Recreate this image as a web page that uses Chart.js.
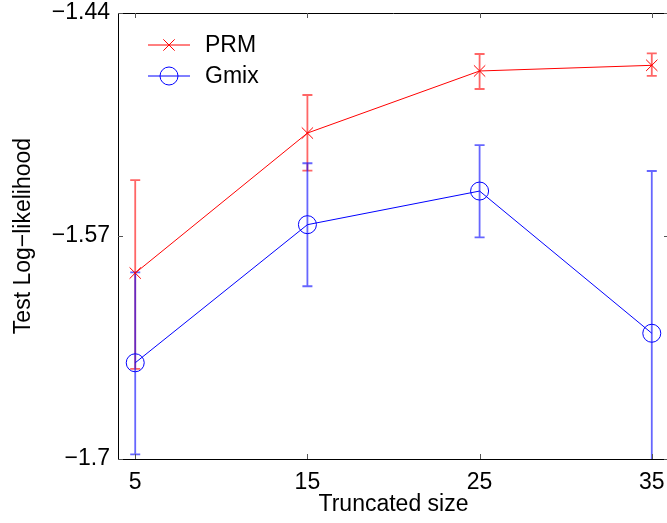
<!DOCTYPE html>
<html>
<head>
<meta charset="utf-8">
<script src="https://cdn.jsdelivr.net/npm/chart.js@4.4.0/dist/chart.umd.min.js"></script>
<style>
  html, body { margin: 0; padding: 0; background: #fff; overflow: hidden; }
  #wrap { width: 680px; height: 523px; }
</style>
</head>
<body>
<div id="wrap"><canvas id="lineChart"></canvas></div>
<script>
const sizes = [5, 15, 25, 35];
const prmMean = [-1.5916, -1.5100, -1.4738, -1.4705];
const prmLow  = [-1.6475, -1.5319, -1.4843, -1.4767];
const prmHigh = [-1.5374, -1.4878, -1.4639, -1.4635];
const gmixMean = [-1.6439, -1.5634, -1.5438, -1.6267];
const gmixLow  = [-1.6973, -1.5993, -1.5708, -1.7200];
const gmixHigh = [-1.5912, -1.5276, -1.5170, -1.5321];
const yTicks = [-1.7, -1.57, -1.44];

const FONT = "'Liberation Sans', Arial, Helvetica, sans-serif";
Chart.defaults.font.family = FONT;
Chart.defaults.color = '#000';

const errColors = ['rgba(255,0,0,0.6)', 'rgba(0,0,255,0.6)'];
const errLow = [prmLow, gmixLow];
const errHigh = [prmHigh, gmixHigh];

// error bars, clipped to the plot box
const errorBars = {
  id: 'errorBars',
  beforeDatasetsDraw(chart) {
    const ctx = chart.ctx, a = chart.chartArea;
    const xs = chart.scales.x, ys = chart.scales.y;
    ctx.save();
    ctx.beginPath();
    ctx.rect(a.left, a.top, a.right - a.left, a.bottom - a.top);
    ctx.clip();
    ctx.lineWidth = 1.8;
    for (let d = 0; d < 2; d++) {
      ctx.strokeStyle = errColors[d];
      for (let i = 0; i < sizes.length; i++) {
        const px = xs.getPixelForValue(sizes[i]);
        const y1 = ys.getPixelForValue(errLow[d][i]);
        const y2 = ys.getPixelForValue(errHigh[d][i]);
        ctx.beginPath();
        ctx.moveTo(px, y1); ctx.lineTo(px, y2);
        ctx.moveTo(px - 5, y1); ctx.lineTo(px + 5, y1);
        ctx.moveTo(px - 5, y2); ctx.lineTo(px + 5, y2);
        ctx.stroke();
      }
    }
    ctx.restore();
  }
};

// matlab style box, inward ticks, legend inside
const boxAndLegend = {
  id: 'boxAndLegend',
  afterDraw(chart) {
    const ctx = chart.ctx, a = chart.chartArea;
    const xs = chart.scales.x, ys = chart.scales.y;
    ctx.save();
    ctx.strokeStyle = '#000';
    ctx.lineWidth = 1;
    ctx.beginPath();
    ctx.moveTo(a.left, a.top + 0.5); ctx.lineTo(a.right, a.top + 0.5);
    ctx.moveTo(a.right - 0.5, a.top); ctx.lineTo(a.right - 0.5, a.bottom);
    ctx.stroke();
    ctx.strokeStyle = '#555';
    ctx.beginPath();
    sizes.forEach(v => {
      const px = Math.round(xs.getPixelForValue(v)) + 0.5;
      ctx.moveTo(px, a.bottom); ctx.lineTo(px, a.bottom - 5);
      ctx.moveTo(px, a.top); ctx.lineTo(px, a.top + 5);
    });
    yTicks.forEach(v => {
      const py = Math.round(ys.getPixelForValue(v)) + 0.5;
      ctx.moveTo(a.left, py); ctx.lineTo(a.left + 5, py);
      ctx.moveTo(a.right, py); ctx.lineTo(a.right - 5, py);
    });
    ctx.stroke();

    const rows = [45, 76];
    chart.data.datasets.forEach((ds, k) => {
      const y = rows[k];
      ctx.strokeStyle = ds.borderColor;
      ctx.fillStyle = 'rgba(0,0,0,0)';
      ctx.lineWidth = 1;
      ctx.beginPath();
      ctx.moveTo(148, y); ctx.lineTo(190, y);
      ctx.stroke();
      Chart.helpers.drawPoint(ctx, {
        pointStyle: ds.pointStyle, radius: ds.pointRadius, borderWidth: 1
      }, 169, y);
      ctx.fillStyle = '#000';
      ctx.font = '23px ' + FONT;
      ctx.textBaseline = 'middle';
      ctx.fillText(ds.label, 205, y + 1);
    });
    ctx.restore();
  }
};

new Chart(document.getElementById('lineChart'), {
  type: 'line',
  data: {
    datasets: [
      {
        label: 'PRM',
        data: sizes.map((v, i) => ({x: v, y: prmMean[i]})),
        borderColor: 'rgb(255,0,0)',
        borderWidth: 1,
        pointStyle: 'crossRot',
        pointRadius: 8,
        pointBorderColor: 'rgb(255,0,0)',
        pointBackgroundColor: 'rgba(0,0,0,0)',
        pointBorderWidth: 1,
        tension: 0,
        fill: false
      },
      {
        label: 'Gmix',
        data: sizes.map((v, i) => ({x: v, y: gmixMean[i]})),
        borderColor: 'rgb(0,0,255)',
        borderWidth: 1,
        pointStyle: 'circle',
        pointRadius: 9,
        pointBorderColor: 'rgb(0,0,255)',
        pointBackgroundColor: 'rgba(0,0,0,0)',
        pointBorderWidth: 1,
        tension: 0,
        fill: false
      }
    ]
  },
  options: {
    responsive: true,
    maintainAspectRatio: false,
    animation: false,
    layout: { padding: { top: 13, right: 11, left: 0, bottom: 0 } },
    plugins: { legend: { display: false }, tooltip: { enabled: false } },
    scales: {
      x: {
        type: 'linear',
        min: 4, max: 36,
        afterBuildTicks: s => { s.ticks = sizes.map(v => ({value: v})); },
        afterFit: s => { s.height = 64; s.paddingLeft = 0; s.paddingRight = 0; },
        grid: { drawOnChartArea: false, drawTicks: false },
        border: { color: '#000', width: 1 },
        ticks: { padding: 10, color: '#000', font: { size: 23 }, maxRotation: 0 },
        title: { display: true, text: 'Truncated size', color: '#000', font: { size: 23 }, padding: { top: 0, bottom: 5 } }
      },
      y: {
        min: -1.7, max: -1.44,
        afterBuildTicks: s => { s.ticks = yTicks.map(v => ({value: v})); },
        afterFit: s => { s.width = 118; s.paddingTop = 0; s.paddingBottom = 0; },
        grid: { drawOnChartArea: false, drawTicks: false },
        border: { color: '#000', width: 1 },
        ticks: {
          padding: 8, color: '#000', font: { size: 23 },
          callback: v => '\u2212' + Math.abs(v)
        },
        title: { display: true, text: 'Test Log\u2212likelihood', color: '#000', font: { size: 23 }, padding: { top: 10, bottom: 0 } }
      }
    }
  },
  plugins: [errorBars, boxAndLegend]
});
</script>
</body>
</html>
